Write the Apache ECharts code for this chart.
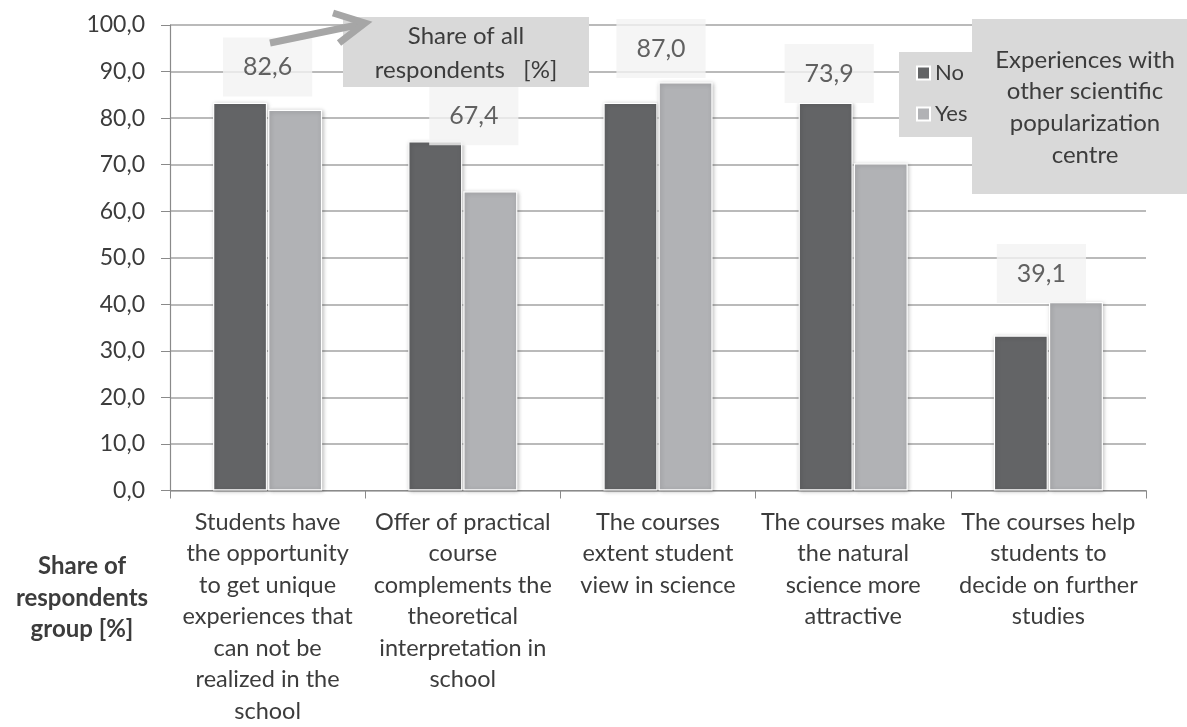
<!DOCTYPE html>
<html>
<head>
<meta charset="utf-8">
<script src="https://cdn.jsdelivr.net/npm/echarts@6/dist/echarts.min.js"></script>
<style>
html,body{margin:0;padding:0;background:#fff;}
#chart{width:1187px;height:727px;}
</style>
</head>
<body>
<div id="chart"></div>
<script>
// ---- data ----
var categories = [
  'Students have\nthe opportunity\nto get unique\nexperiences that\ncan not be\nrealized in the\nschool',
  'Offer of practical\ncourse\ncomplements the\ntheoretical\ninterpretation in\nschool',
  'The courses\nextent student\nview in science',
  'The courses make\nthe natural\nscience more\nattractive',
  'The courses help\nstudents to\ndecide on further\nstudies'
];
var seriesNames = ['No', 'Yes'];
var noValues  = [83.3, 75.0, 83.3, 83.3, 33.3];
var yesValues = [81.8, 64.3, 87.7, 70.3, 40.5];
var allValues = [82.6, 67.4, 87.0, 73.9, 39.1];
var yTicks = [0, 10, 20, 30, 40, 50, 60, 70, 80, 90, 100];
var allLabelName = 'Share of all\nrespondents   [%]';
var legendTitle = 'Experiences with\nother scientific\npopularization\ncentre';
var xAxisTitle = 'Share of\nrespondents\ngroup [%]';

// label box offsets (layout only)
var allLabelOffsets = [[0, -39], [11, -61], [3, -37], [-24, -73], [-7, -35]];

var FONT = 'Lato, "Open Sans", sans-serif';
var TXT = '#3c3c3c';
function fmt(v){ return Number(v).toFixed(1).replace('.', ','); }

var chart = echarts.init(document.getElementById('chart'), null, {renderer: 'canvas'});

var barStyle = function(color){
  return {
    color: color,
    borderColor: '#ffffff',
    borderWidth: 1.2,
    shadowBlur: 4,
    shadowColor: 'rgba(0,0,0,0.25)',
    shadowOffsetX: 1,
    shadowOffsetY: 1
  };
};

var option = {
  animation: false,
  textStyle: {fontFamily: FONT},
  grid: {left: 170, right: 41, top: 25, bottom: 236, containLabel: false},
  legend: {
    data: seriesNames,
    orient: 'vertical',
    left: 899,
    top: 52,
    backgroundColor: '#d9d9d9',
    padding: [10, 90, 12, 17],
    itemWidth: 13,
    itemHeight: 13,
    itemGap: 19,
    icon: 'rect',
    textStyle: {fontSize: 22, color: TXT, fontFamily: FONT},
    z: 5
  },
  xAxis: {
    type: 'category',
    data: categories,
    boundaryGap: true,
    axisLine: {show: true, lineStyle: {color: '#8a8a8a', width: 1.2}},
    axisTick: {show: true, length: 8, alignWithLabel: false, lineStyle: {color: '#8a8a8a'}},
    axisLabel: {
      interval: 0,
      margin: 16,
      fontSize: 23.5,
      lineHeight: 31.5,
      color: TXT,
      fontFamily: FONT,
      align: 'center'
    }
  },
  yAxis: {
    type: 'value',
    min: yTicks[0],
    max: yTicks[yTicks.length - 1],
    interval: yTicks[1] - yTicks[0],
    axisLine: {show: true, lineStyle: {color: '#8a8a8a', width: 1.2}},
    axisTick: {show: true, length: 9, lineStyle: {color: '#8a8a8a'}},
    splitLine: {show: true, lineStyle: {color: '#a3a3a3', width: 1.5}},
    axisLabel: {
      margin: 25,
      fontSize: 23,
      color: TXT,
      fontFamily: FONT,
      formatter: fmt
    }
  },
  series: [
    {
      name: seriesNames[0],
      type: 'bar',
      data: noValues,
      barWidth: 54,
      barGap: '2%',
      itemStyle: barStyle('#636466')
    },
    {
      name: seriesNames[1],
      type: 'bar',
      data: yesValues,
      barWidth: 54,
      barGap: '2%',
      itemStyle: barStyle('#b1b2b5')
    },
    {
      name: 'all',
      type: 'scatter',
      symbolSize: 0,
      z: 10,
      data: allValues.map(function(v, i){
        return {
          value: [i, v],
          label: {offset: allLabelOffsets[i]}
        };
      }),
      label: {
        show: true,
        position: 'inside',
        formatter: function(p){ return fmt(p.value[1]); },
        fontSize: 25,
        color: TXT,
        fontFamily: FONT,
        backgroundColor: '#f2f2f2',
        padding: [17, 20, 17, 20]
      },
      tooltip: {show: false}
    }
  ],
  graphic: [
    {
      type: 'text',
      x: 82,
      y: 551,
      z: 50,
      style: {
        text: xAxisTitle,
        fill: TXT,
        font: 'bold 24px ' + FONT,
        align: 'center',
        verticalAlign: 'top',
        lineHeight: 31.5
      }
    },
    {
      type: 'rect',
      x: 343, y: 17,
      z: 60,
      shape: {width: 246, height: 70},
      style: {fill: '#d9d9d9'}
    },
    {
      type: 'text',
      x: 466, y: 19,
      z: 61,
      style: {
        text: allLabelName,
        fill: TXT,
        font: '24px ' + FONT,
        align: 'center',
        verticalAlign: 'top',
        lineHeight: 34
      }
    },
    {
      type: 'polyline',
      z: 70,
      shape: {points: [[270, 43], [362, 24]]},
      style: {stroke: '#a6a6a6', lineWidth: 7, fill: null}
    },
    {
      type: 'polyline',
      z: 70,
      shape: {points: [[333, 13], [365, 23], [339, 43]]},
      style: {stroke: '#a6a6a6', lineWidth: 7, fill: null, lineJoin: 'miter'}
    },
    {
      type: 'rect',
      x: 972, y: 19,
      z: 80,
      shape: {width: 230, height: 175},
      style: {fill: '#d9d9d9'}
    },
    {
      type: 'text',
      x: 1085, y: 44,
      z: 81,
      style: {
        text: legendTitle,
        fill: TXT,
        font: '24px ' + FONT,
        align: 'center',
        verticalAlign: 'top',
        lineHeight: 31.7
      }
    }
  ]
};
chart.setOption(option);
</script>
</body>
</html>
